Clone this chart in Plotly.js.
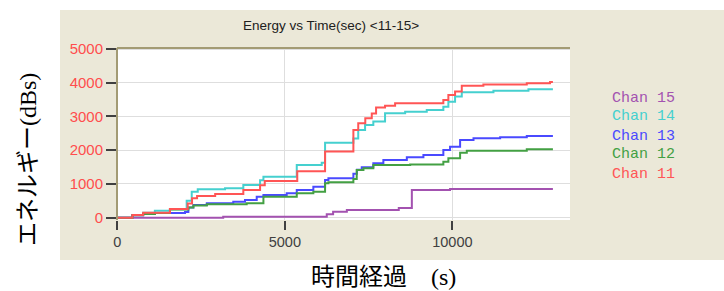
<!DOCTYPE html>
<html>
<head>
<meta charset="utf-8">
<script src="https://cdn.plot.ly/plotly-3.0.1.min.js"></script>
<style>html,body{margin:0;padding:0;background:#fff;}#chart{width:724px;height:291px;}</style>
</head>
<body>
<div id="chart"></div>
<script>
const chartTitle = "Energy vs Time(sec) <11-15>";
const xTitle = "時間経過　(s)";
const yTitle = "エネルギー(dBs)";
const xTickVals = [0, 5000, 10000];
const yTickVals = [0, 1000, 2000, 3000, 4000, 5000];

const seriesNames = ["Chan 15", "Chan 14", "Chan 13", "Chan 12", "Chan 11"];
const seriesColors = ["#a352b0", "#45d0cf", "#4a4aff", "#43a043", "#ff5555"];

const chan15X = [0, 3160, 6250, 6440, 6850, 8400, 8790, 9930, 13000];
const chan15Y = [0, 25, 100, 178, 228, 290, 820, 850, 850];

const chan14X = [0, 450, 770, 1120, 1570, 2070, 2220, 2400, 3215, 3760, 4260, 4360, 5355, 6100, 6200, 7045, 7190, 7394, 7640, 7990, 8590, 9235, 9730, 9880, 10080, 10280, 11225, 12270, 13000];
const chan14Y = [0, 80, 150, 207, 249, 500, 771, 841, 871, 969, 1110, 1215, 1562, 1630, 2220, 2350, 2600, 2750, 2850, 3094, 3143, 3193, 3290, 3440, 3590, 3716, 3765, 3805, 3805];

const chan13X = [0, 450, 770, 1120, 2020, 2120, 2270, 2670, 3460, 3810, 4160, 4360, 5055, 5355, 5850, 6200, 6300, 7045, 7150, 7295, 7640, 7940, 8640, 9135, 9730, 9930, 10230, 10630, 11425, 12220, 13000];
const chan13Y = [0, 70, 110, 140, 170, 300, 376, 427, 474, 525, 622, 673, 723, 821, 919, 1117, 1168, 1300, 1420, 1494, 1612, 1710, 1790, 1858, 2007, 2105, 2303, 2353, 2383, 2421, 2421];

const chan12X = [0, 450, 770, 1120, 1570, 2120, 2270, 2670, 3860, 4360, 5355, 5850, 6200, 6300, 7045, 7145, 7345, 7640, 8740, 9730, 9880, 10230, 10430, 12220, 13000];
const chan12Y = [0, 70, 110, 140, 240, 300, 360, 400, 427, 622, 723, 771, 1019, 1050, 1150, 1414, 1464, 1562, 1580, 1660, 1760, 1927, 1986, 2027, 2027];

const chan11X = [0, 450, 770, 1570, 2100, 2230, 2380, 2920, 3760, 4260, 4400, 5370, 6200, 7045, 7190, 7400, 7594, 7722, 7990, 8290, 9730, 9880, 10080, 10280, 10925, 12220, 12915, 13000];
const chan11Y = [0, 80, 150, 260, 420, 580, 640, 700, 820, 960, 1090, 1380, 1960, 2600, 2800, 2950, 3090, 3270, 3320, 3390, 3490, 3640, 3740, 3910, 3950, 3985, 4020, 4020];

const xs = [chan15X, chan14X, chan13X, chan12X, chan11X];
const ys = [chan15Y, chan14Y, chan13Y, chan12Y, chan11Y];

const traces = xs.map((x, i) => ({
  type: "scatter", mode: "lines", x: x, y: ys[i], name: seriesNames[i],
  line: {color: seriesColors[i], width: 2, shape: "hv"}, hoverinfo: "skip"
}));

const legendY = [0.709, 0.599, 0.488, 0.378, 0.267];
const annotations = seriesNames.map((n, i) => ({
  xref: "paper", yref: "paper", x: 1.088, y: legendY[i], xanchor: "left", yanchor: "middle",
  text: n, showarrow: false, font: {family: "Liberation Mono, Courier New, monospace", size: 15, color: seriesColors[i]}
}));
annotations.push({xref: "paper", yref: "paper", x: 0.472, y: 1.128, xanchor: "center", yanchor: "middle",
  text: chartTitle.replace("<", "&lt;").replace(">", "&gt;"), showarrow: false,
  font: {family: "Liberation Sans, Arial, sans-serif", size: 13.5, color: "#202020"}});
annotations.push({xref: "paper", yref: "paper", x: 0.589, y: -0.331, xanchor: "center", yanchor: "middle",
  text: xTitle, showarrow: false, font: {family: "Liberation Serif, Noto Sans CJK JP, serif", size: 24, color: "#000"}});
annotations.push({xref: "paper", yref: "paper", x: -0.1965, y: 0.3547, xanchor: "center", yanchor: "middle",
  text: yTitle, textangle: -90, showarrow: false, font: {family: "Liberation Serif, Noto Sans CJK JP, serif", size: 24, color: "#000"}});

const layout = {
  width: 724, height: 291,
  margin: {l: 117, r: 154, t: 48, b: 71, pad: 0},
  paper_bgcolor: "#ffffff", plot_bgcolor: "rgba(0,0,0,0)",
  showlegend: false,
  xaxis: {range: [-10, 13510], tickmode: "array", tickvals: xTickVals, ticktext: xTickVals.map(String),
    ticks: "outside", ticklen: 9, tickwidth: 2, tickcolor: "#404040",
    tickfont: {family: "Liberation Sans, Arial, sans-serif", size: 14.5, color: "#404040"},
    showgrid: true, gridcolor: "#dedede", gridwidth: 1, zeroline: false, showline: false, fixedrange: true},
  yaxis: {range: [-68, 5030], tickmode: "array", tickvals: yTickVals, ticktext: yTickVals.map(String),
    ticks: "outside", ticklen: 10, tickwidth: 2, tickcolor: "#404040",
    tickfont: {family: "Liberation Sans, Arial, sans-serif", size: 15, color: "#ff4d4d"},
    showgrid: true, gridcolor: "#dedede", gridwidth: 1, zeroline: false, showline: false, fixedrange: true},
  shapes: [
    {type: "rect", xref: "paper", yref: "paper", x0: -0.1258, x1: 1.34, y0: -0.2326, y1: 1.221,
      fillcolor: "#ebe8d8", line: {width: 0}, layer: "below"},
    {type: "rect", xref: "paper", yref: "paper", x0: 0, x1: 1, y0: 0, y1: 1,
      fillcolor: "#ffffff", line: {width: 0}, layer: "below"},
    {type: "line", xref: "paper", yref: "paper", x0: 0, x1: 0, y0: 0, y1: 1, line: {color: "#a39b74", width: 2}},
    {type: "line", xref: "paper", yref: "paper", x0: 0, x1: 1, y0: 1, y1: 1, line: {color: "#a39b74", width: 2}}
  ],
  annotations: annotations
};

Plotly.newPlot("chart", traces, layout, {displayModeBar: false, staticPlot: true});
</script>
</body>
</html>
